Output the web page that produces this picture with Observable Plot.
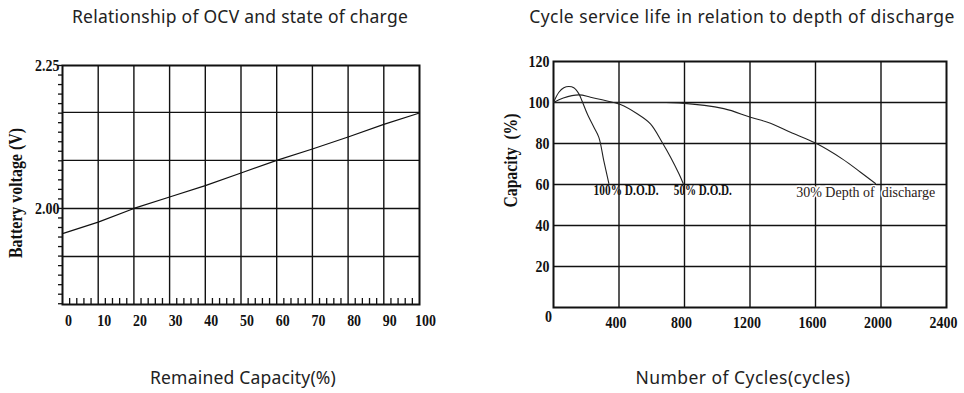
<!DOCTYPE html>
<html><head><meta charset="utf-8">
<script src="https://cdn.jsdelivr.net/npm/d3@7"></script>
<script src="https://cdn.jsdelivr.net/npm/@observablehq/plot@0.6"></script>
<style>
body{margin:0;background:#fff;width:964px;height:393px;position:relative;overflow:hidden;font-family:"Noto Sans",sans-serif;}
.t{position:absolute;font-size:17.5px;line-height:20px;color:#222;white-space:nowrap;transform:translateX(-50%);}
.chart{position:absolute;}
</style></head><body>
<div class="t" style="left:240px;top:6px;letter-spacing:0.25px">Relationship of OCV and state of charge</div>
<div class="t" style="left:742px;top:6px;letter-spacing:0.45px">Cycle service life in relation to depth of discharge</div>
<div class="t" style="left:243px;top:367px;letter-spacing:0.2px">Remained Capacity(%)</div>
<div class="t" style="left:743px;top:367px;letter-spacing:0.45px">Number of Cycles(cycles)</div>
<div id="c1" class="chart" style="left:0;top:50px"></div>
<div id="c2" class="chart" style="left:490px;top:50px"></div>
<script>
// ---- Left chart: OCV vs state of charge ----
const socCapacity = [0, 10, 20, 30, 40, 50, 60, 70, 80, 90, 100];
const ocvVoltage = [1.956, 1.976, 2.000, 2.020, 2.040, 2.062, 2.084, 2.104, 2.125, 2.147, 2.167];
const socTicks = [0, 10, 20, 30, 40, 50, 60, 70, 80, 90, 100];
const socGrid = [10, 20, 30, 40, 50, 60, 70, 80, 90];
const ocvTicks = [2.00, 2.25];
const ocvTickLabels = ["2.00", "2.25"];
const ocvGrid = [1.916, 2.000, 2.084, 2.168];
const ocvDomain = [1.832, 2.25];
const ocvYTitle = "Battery voltage (V)";

// ---- Right chart: cycle life vs depth of discharge ----
const dod100Cycles = [0, 33, 63, 94, 124, 155, 175, 206, 246, 277, 307, 338];
const dod100Capacity = [100, 105, 107.2, 107.8, 107.2, 104.2, 100.6, 94.5, 88, 83, 71.7, 60.5];
const dod50Cycles = [0, 60, 155, 226, 297, 409, 511, 592, 664, 715, 766, 792];
const dod50Capacity = [100, 102.2, 103.7, 102.6, 101.3, 99, 94.5, 89.6, 80.5, 73.3, 65.2, 60.5];
const dod30Cycles = [0, 300, 640, 766, 1040, 1203, 1325, 1447, 1600, 1763, 1875, 1966];
const dod30Capacity = [100, 100, 100, 99.8, 97, 92.8, 89.9, 85.5, 80.2, 72.5, 66, 60.5];
const cycleTicks = [0, 400, 800, 1200, 1600, 2000, 2400];
const capacityTicks = [0, 20, 40, 60, 80, 100, 120];
const curveLabels = ["100% D.O.D.", "50% D.O.D.", "30% Depth of  discharge"];
const curveLabelX = [245, 735, 1482];
const curveLabelY = [57, 57, 56.2];
const capYTitle = "Capacity  (%)";

const ink = "#111";
const serif = {fontFamily: "'Liberation Serif', serif", fontWeight: "bold", fontSize: "17px", color: ink, background: "transparent", overflow: "visible"};

function textsWith(svg, pred) {
  return Array.from(svg.querySelectorAll("text")).filter(t => pred(t.textContent));
}
function squeeze(list, factor) {
  list.forEach(t => {
    const w = t.getComputedTextLength();
    t.setAttribute("textLength", (w * factor).toFixed(1));
    t.setAttribute("lengthAdjust", "spacingAndGlyphs");
  });
}
function fitTo(list, width) {
  list.forEach(t => {
    t.setAttribute("textLength", width);
    t.setAttribute("lengthAdjust", "spacingAndGlyphs");
  });
}
const isNum = s => /^[0-9.]+$/.test(s);

// Left
const W1 = 440, H1 = 290, mL1 = 62, mR1 = 21, mT1 = 15, mB1 = 36;
const iW1 = W1 - mL1 - mR1, iH1 = H1 - mT1 - mB1;
const minorX = d3.range(0, 100, 2).filter(v => v % 10 !== 0);
const minorY = d3.range(0, 26).map(k => 2.25 - k * (0.25 / 15)).filter(v => v > ocvDomain[0] + 0.001);
const ocvData = socCapacity.map((c, i) => ({c, v: ocvVoltage[i]}));
const p1 = Plot.plot({
  width: W1, height: H1, marginLeft: mL1, marginRight: mR1, marginTop: mT1, marginBottom: mB1,
  style: serif,
  x: {domain: [0, 100]},
  y: {domain: ocvDomain},
  marks: [
    Plot.gridX(socGrid, {stroke: ink, strokeOpacity: 1, strokeWidth: 1.4}),
    Plot.gridY(ocvGrid, {stroke: ink, strokeOpacity: 1, strokeWidth: 1.4}),
    Plot.ruleX(minorX, {x: d => d, stroke: ink, strokeWidth: 1.3, insetTop: iH1 - 6}),
    Plot.ruleY(minorY, {y: d => d, stroke: ink, strokeWidth: 1.3, insetLeft: -4, insetRight: iW1}),
    Plot.frame({stroke: ink, strokeWidth: 2}),
    Plot.axisX({ticks: socTicks, tickFormat: d => String(d), tickSize: 0, tickPadding: 9, dx: 6, label: null}),
    Plot.axisY({ticks: ocvTicks, tickFormat: d => ocvTickLabels[ocvTicks.indexOf(d)], tickSize: 0, tickPadding: 3, label: null}),
    Plot.text([ocvYTitle], {frameAnchor: "left", textAnchor: "middle", rotate: -90, dx: -46, dy: 8, fontSize: 18}),
    Plot.line(ocvData, {x: "c", y: "v", stroke: ink, strokeWidth: 1.2})
  ]
});
document.getElementById("c1").appendChild(p1);

// Right
const W2 = 474, H2 = 290, mL2 = 63, mR2 = 18, mT2 = 11, mB2 = 33;
const curveData = [
  ...dod100Cycles.map((c, i) => ({c, v: dod100Capacity[i], s: "100"})),
  ...dod50Cycles.map((c, i) => ({c, v: dod50Capacity[i], s: "50"})),
  ...dod30Cycles.map((c, i) => ({c, v: dod30Capacity[i], s: "30"}))
];
const labelData = curveLabels.map((t, i) => ({t, x: curveLabelX[i], y: curveLabelY[i]}));
const p2 = Plot.plot({
  width: W2, height: H2, marginLeft: mL2, marginRight: mR2, marginTop: mT2, marginBottom: mB2,
  style: serif,
  x: {domain: [0, 2400]},
  y: {domain: [0, 120]},
  marks: [
    Plot.gridX(cycleTicks.slice(1, -1), {stroke: ink, strokeOpacity: 1, strokeWidth: 1.4}),
    Plot.gridY(capacityTicks.slice(1, -1), {stroke: ink, strokeOpacity: 1, strokeWidth: 1.4}),
    Plot.frame({stroke: ink, strokeWidth: 2}),
    Plot.axisX({ticks: cycleTicks.slice(1), tickFormat: d => String(d), tickSize: 0, tickPadding: 8, dx: -3, label: null}),
    Plot.axisY({ticks: capacityTicks.slice(1), tickFormat: d => String(d), tickSize: 0, tickPadding: 4, label: null}),
    Plot.text([cycleTicks[0]], {x: d => d, y: capacityTicks[0], text: d => String(d), dx: -5, dy: 9}),
    Plot.text([capYTitle], {frameAnchor: "left", textAnchor: "middle", rotate: -90, dx: -42, dy: -24, fontSize: 18}),
    Plot.line(curveData, {x: "c", y: "v", z: "s", stroke: "#222", strokeWidth: 1.1, curve: "catmull-rom"}),
    Plot.text(labelData.slice(0, 2), {x: "x", y: "y", text: "t", textAnchor: "start", fontSize: 15}),
    Plot.text(labelData.slice(2), {x: "x", y: "y", text: "t", textAnchor: "start", fontSize: 14, fontWeight: "normal", fill: "#2a2016", stroke: "white", strokeWidth: 3})
  ]
});
document.getElementById("c2").appendChild(p2);

[p1, p2].forEach(svg => squeeze(textsWith(svg, isNum), 0.82));
fitTo(textsWith(p1, s => s === ocvYTitle), 130);
const yt2 = textsWith(p2, s => s === capYTitle);
yt2.forEach(t => { t.setAttribute("xml:space", "preserve"); t.style.whiteSpace = "pre"; });
fitTo(yt2, 94);
fitTo(textsWith(p2, s => s === curveLabels[0]), 65);
fitTo(textsWith(p2, s => s === curveLabels[1]), 58);
textsWith(p2, s => s === curveLabels[2]).forEach(t => { t.setAttribute("xml:space", "preserve"); t.style.whiteSpace = "pre"; });
</script>
</body></html>
